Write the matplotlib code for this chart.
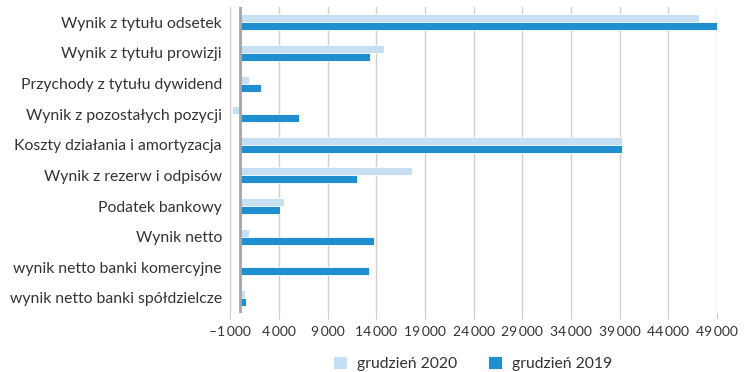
import numpy as np
import matplotlib.pyplot as plt
from matplotlib.ticker import FuncFormatter

plt.rcParams['font.family'] = ['Lato', 'DejaVu Sans']

kategorie = [
    'Wynik z tytułu odsetek',
    'Wynik z tytułu prowizji',
    'Przychody z tytułu dywidend',
    'Wynik z pozostałych pozycji',
    'Koszty działania i amortyzacja',
    'Wynik z rezerw i odpisów',
    'Podatek bankowy',
    'Wynik netto',
    'wynik netto banki komercyjne',
    'wynik netto banki spółdzielcze',
]
gru_2020 = [47160, 14830, 920, -860, 39280, 17640, 4490, 920, 140, 480]
gru_2019 = [49140, 13390, 2120, 6030, 39250, 11990, 4080, 13800, 13250, 620]

fig = plt.figure(figsize=(7.5, 3.72), dpi=100)
ax = fig.add_axes([0.307, 0.158, 0.649, 0.823])

y = np.arange(len(kategorie))
h = 0.26
ax.barh(y - h / 2, gru_2020, height=h, color='#c6dff3', edgecolor='white',
        linewidth=0.6, label='grudzień 2020', zorder=3)
ax.barh(y + h / 2, gru_2019, height=h, color='#1f8fcf', edgecolor='white',
        linewidth=0.6, label='grudzień 2019', zorder=3)

ax.set_ylim(len(kategorie) - 0.5, -0.5)
ax.set_yticks(y)
ax.set_yticklabels(kategorie, fontsize=11.3, color='#333333')
ax.tick_params(axis='y', length=0, pad=6)

ax.set_xlim(-1000, 49000)
ax.set_xticks(np.arange(-1000, 49001, 5000))
ax.xaxis.set_major_formatter(FuncFormatter(
    lambda v, p: ('\u2013' if v < 0 else '') + f'{abs(int(v)):,}'.replace(',', '\u2009')))
ax.tick_params(axis='x', labelsize=10, colors='#333333', length=4, width=0.8,
               pad=5)
ax.tick_params(axis='x', color='#c8c8c8')

ax.grid(axis='x', color='#cfcfcf', linewidth=1, zorder=0)
ax.axvline(0, color='#a6a6a6', linewidth=2, zorder=4)
for s in ax.spines.values():
    s.set_visible(False)

fig.legend(loc='lower center', bbox_to_anchor=(0.63, -0.035), ncol=2, frameon=False,
           fontsize=11.3, handlelength=0.9, handleheight=0.9, columnspacing=2.0,
           handletextpad=0.6, labelcolor='#333333')

fig.savefig('out.png', dpi=100)
